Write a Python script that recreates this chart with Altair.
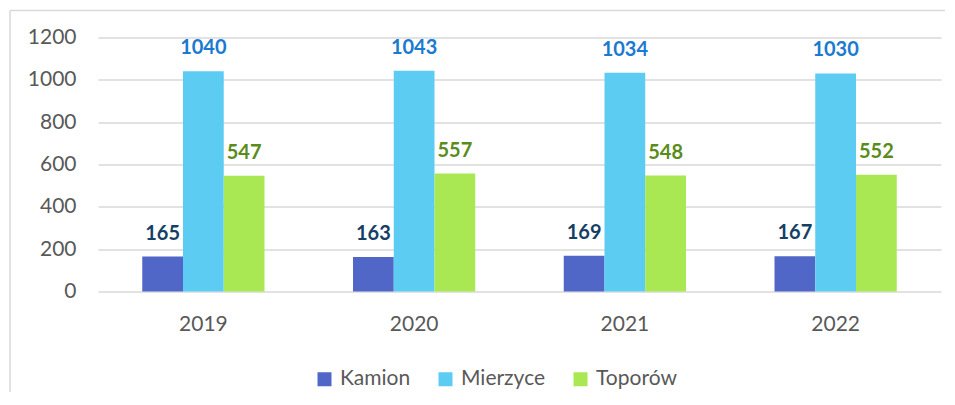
import altair as alt
import pandas as pd

years = ["2019", "2020", "2021", "2022"]
series = ["Kamion", "Mierzyce", "Toporów"]
kamion = [165, 163, 169, 167]
mierzyce = [1040, 1043, 1034, 1030]
toporow = [547, 557, 548, 552]
y_ticks = [0, 200, 400, 600, 800, 1000, 1200]

bar_colors = ["#5067C8", "#5DCCF3", "#A9E853"]
label_colors = ["#143F66", "#1A7AD0", "#5A8C1C"]

rows = []
for s, vals in zip(series, [kamion, mierzyce, toporow]):
    for yr, v in zip(years, vals):
        rows.append({"Rok": yr, "Sołectwo": s, "Liczba": v})
df = pd.DataFrame(rows)

FONT = "Lato"
GRAY = "#595959"

x_enc = alt.X(
    "Rok:N",
    sort=years,
    scale=alt.Scale(paddingInner=0.42, paddingOuter=0.21),
    axis=alt.Axis(title=None, labelAngle=0, ticks=False, domain=False,
                  labelFontSize=21, labelColor=GRAY, labelFont=FONT,
                  labelPadding=22),
)
xoff_enc = alt.XOffset("Sołectwo:N", sort=series,
                       scale=alt.Scale(domain=series, paddingInner=0, paddingOuter=0))
y_enc = alt.Y(
    "Liczba:Q",
    scale=alt.Scale(domain=[0, 1200], nice=False),
    axis=alt.Axis(values=y_ticks, format="d", title=None, ticks=False, domain=False,
                  gridColor="#D9D9D9", gridWidth=1.5,
                  labelFontSize=21, labelColor=GRAY, labelFont=FONT,
                  labelPadding=22),
)

bars = alt.Chart(df).mark_bar().encode(
    x=x_enc,
    xOffset=xoff_enc,
    y=y_enc,
    color=alt.Color(
        "Sołectwo:N", sort=series,
        scale=alt.Scale(domain=series, range=bar_colors),
        legend=alt.Legend(
            title=None, orient="none", direction="horizontal",
            legendX=216, legendY=331,
            symbolType="square", symbolSize=196, symbolStrokeWidth=0,
            labelFontSize=21, labelColor=GRAY, labelFont=FONT,
            labelOffset=5, columnPadding=24,
        ),
    ),
)

labels = alt.Chart(df).mark_text(
    font=FONT, fontWeight="bold", fontSize=20, baseline="alphabetic", dy=-17
).encode(
    x=x_enc,
    xOffset=xoff_enc,
    y=y_enc,
    text="Liczba:Q",
    color=alt.Color("Sołectwo:N", sort=series,
                    scale=alt.Scale(domain=series, range=label_colors),
                    legend=None),
)

frame_df = pd.DataFrame({"k": [0]})
frame_left = alt.Chart(frame_df).mark_rule(color="#D9D9D9", strokeWidth=1.5).encode(
    x=alt.value(-88), y=alt.value(-27), y2=alt.value(400)
)
frame_top = alt.Chart(frame_df).mark_rule(color="#D9D9D9", strokeWidth=1.5).encode(
    x=alt.value(-88), x2=alt.value(900), y=alt.value(-27)
)

chart = (
    alt.layer(frame_left, frame_top, bars, labels)
    .resolve_scale(color="independent")
    .properties(
        width=843, height=254,
        autosize=alt.AutoSizeParams(type="none"),
        padding={"left": 90, "top": 29.5, "right": 4, "bottom": 100},
    )
    .configure_view(stroke=None)
)

chart.save("out.html", embed_options={"renderer": "svg", "actions": False})
